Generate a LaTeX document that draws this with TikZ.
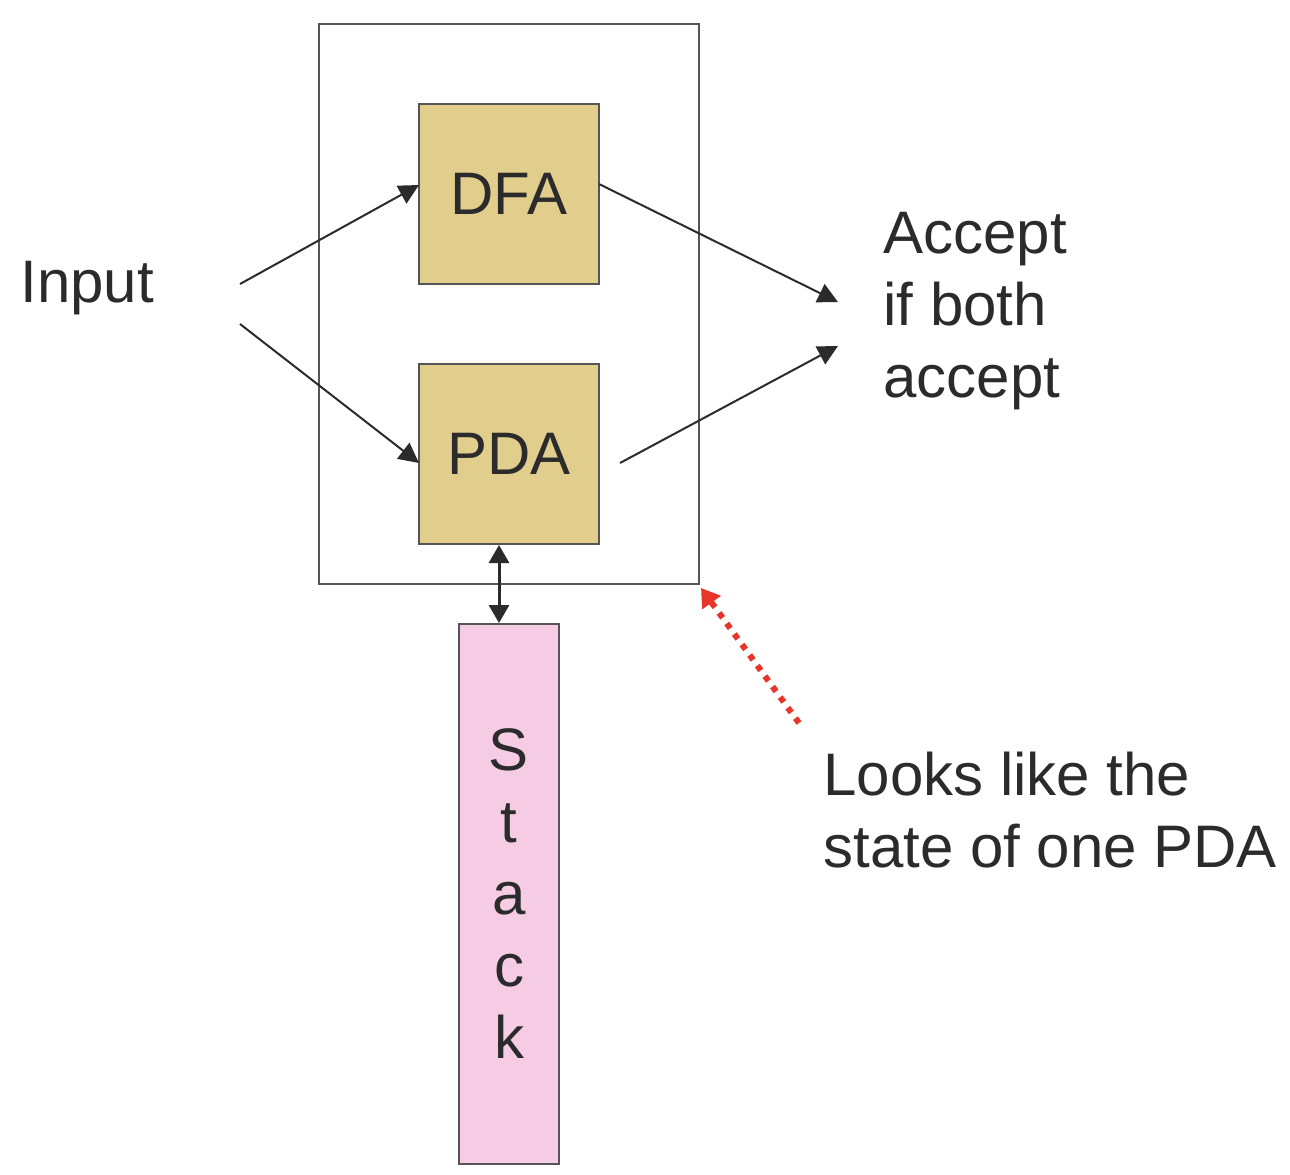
\documentclass[tikz,border=0pt]{standalone}
\usepackage{fontspec}
\setmainfont{Liberation Sans}
\usetikzlibrary{arrows.meta}
\definecolor{ink}{HTML}{2B2B2B}
\definecolor{boxgold}{HTML}{E1CD8C}
\definecolor{stackpink}{HTML}{F6CCE4}
\definecolor{hintred}{HTML}{E8352B}
\definecolor{frame}{HTML}{555555}
\begin{document}
\begin{tikzpicture}[x=0.5pt,y=-0.5pt,
  every node/.style={text=ink,font=\fontsize{30}{36}\selectfont,inner sep=0pt},
  unitbox/.style={draw=frame,line width=1pt,fill=boxgold,minimum width=90pt,minimum height=90pt},
  stackbox/.style={draw=frame,line width=1pt,fill=stackpink,minimum width=50pt,minimum height=270pt,align=center},
  conn/.style={draw=ink,line width=1pt,-{Triangle[length=10pt,width=10pt]}},
  dconn/.style={draw=ink,line width=1.5pt,{Triangle[length=9pt,width=10pt]}-{Triangle[length=9pt,width=10pt]}},
  hint/.style={draw=hintred,line width=3pt,dash pattern=on 3pt off 3.5pt,-{Triangle[length=9pt,width=11pt]}},
  label/.style={align=left,anchor=west}
]
\useasboundingbox (0,0) rectangle (1290,1174);
\node[draw=frame,line width=0.8pt,minimum width=190pt,minimum height=280pt] (outer) at (509,304) {};
\node[unitbox] (dfa) at (509,194) {DFA};
\node[unitbox] (pda) at (509,454) {PDA};
\node[stackbox] (stack) at (509,894) {S\\t\\a\\c\\k};
\node[label] (input) at (20,288) {Input};
\node[label] (accept) at (883,311) {Accept\\if both\\accept};
\node[label] (looks) at (823,810) {Looks like the\\state of one PDA};
\coordinate (in1) at (240,284);
\coordinate (in2) at (240,324);
\coordinate (dfain) at (419,185);
\coordinate (pdain) at (419,463);
\coordinate (dfaout) at (599,184);
\coordinate (pdaout) at (620,463);
\coordinate (acc1) at (838,302);
\coordinate (acc2) at (838,346);
\coordinate (hintstart) at (799,723);
\coordinate (hintend) at (701,588);
\draw[conn] (in1) -- (dfain);
\draw[conn] (in2) -- (pdain);
\draw[conn] (dfaout) -- (acc1);
\draw[conn] (pdaout) -- (acc2);
\draw[dconn] ([xshift=-5pt]pda.south) -- ([xshift=-5pt]stack.north);
\draw[hint] (hintstart) -- (hintend);
\end{tikzpicture}
\end{document}
